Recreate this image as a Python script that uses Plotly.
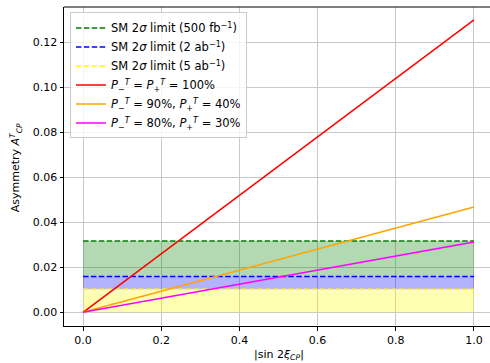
import plotly.graph_objects as go

# Data
x_vals = [0.0, 1.0]
asym_100 = [0.0, 0.13]       # P- = P+ = 100%
asym_90_40 = [0.0, 0.0468]   # P- = 90%, P+ = 40%
asym_80_30 = [0.0, 0.0312]   # P- = 80%, P+ = 30%
limit_500fb = 0.0317
limit_2ab = 0.0159
limit_5ab = 0.0102

x_ticks = [0.0, 0.2, 0.4, 0.6, 0.8, 1.0]
y_ticks = [0.00, 0.02, 0.04, 0.06, 0.08, 0.10, 0.12]

FONT = "DejaVu Sans"
fig = go.Figure()

def band(lo, hi, color):
    fig.add_trace(go.Scatter(
        x=[x_vals[0], x_vals[1], x_vals[1], x_vals[0], x_vals[0]],
        y=[lo, lo, hi, hi, lo], fill="toself", fillcolor=color,
        mode="none", showlegend=False, hoverinfo="skip"))

band(limit_2ab, limit_500fb, "rgba(0,128,0,0.3)")
band(limit_5ab, limit_2ab, "rgba(0,0,255,0.3)")
band(0.0, limit_5ab, "rgba(255,255,0,0.3)")

dash = "5.5px,2.4px"
fig.add_trace(go.Scatter(x=x_vals, y=[limit_500fb] * 2, mode="lines",
                         line=dict(color="green", width=1.5, dash=dash),
                         name="SM 2<i>σ</i> limit (500 fb<sup>−1</sup>)"))
fig.add_trace(go.Scatter(x=x_vals, y=[limit_2ab] * 2, mode="lines",
                         line=dict(color="blue", width=1.5, dash=dash),
                         name="SM 2<i>σ</i> limit (2 ab<sup>−1</sup>)"))
fig.add_trace(go.Scatter(x=x_vals, y=[limit_5ab] * 2, mode="lines",
                         line=dict(color="yellow", width=1.5, dash=dash),
                         name="SM 2<i>σ</i> limit (5 ab<sup>−1</sup>)"))
fig.add_trace(go.Scatter(x=x_vals, y=asym_100, mode="lines",
                         line=dict(color="red", width=1.5),
                         name="<i>P</i><sub>−</sub><sup><i>T</i></sup> = <i>P</i><sub>+</sub><sup><i>T</i></sup> = 100%"))
fig.add_trace(go.Scatter(x=x_vals, y=asym_90_40, mode="lines",
                         line=dict(color="orange", width=1.5),
                         name="<i>P</i><sub>−</sub><sup><i>T</i></sup> = 90%, <i>P</i><sub>+</sub><sup><i>T</i></sup> = 40%"))
fig.add_trace(go.Scatter(x=x_vals, y=asym_80_30, mode="lines",
                         line=dict(color="magenta", width=1.5),
                         name="<i>P</i><sub>−</sub><sup><i>T</i></sup> = 80%, <i>P</i><sub>+</sub><sup><i>T</i></sup> = 30%"))

fig.add_shape(type="line", xref="paper", yref="paper", x0=0, x1=1, y0=1, y1=1,
              line=dict(color="black", width=1))

fig.add_annotation(text="|sin 2<i>ξ</i><sub><i>CP</i></sub>|", xref="paper", yref="paper",
                   x=(279 - 64) / 426, y=(325.7 - 355) / 319, xanchor="center",
                   yanchor="middle", showarrow=False, font=dict(family=FONT, size=11))
fig.add_annotation(text="Asymmetry <i>A</i><sup><i>T</i></sup><sub><i>CP</i></sub>",
                   xref="paper", yref="paper", x=(16 - 64) / 426, y=(325.7 - 168) / 319,
                   xanchor="center", yanchor="middle", textangle=-90, showarrow=False,
                   font=dict(family=FONT, size=11))

fig.update_layout(
    width=490, height=363,
    margin=dict(l=64, r=0, t=7, b=37),
    plot_bgcolor="white", paper_bgcolor="white",
    font=dict(family=FONT, size=11, color="black"),
    legend=dict(x=0.014, y=0.983, xanchor="left", yanchor="top",
                bgcolor="rgba(255,255,255,0.8)", bordercolor="#cccccc",
                borderwidth=1, font=dict(family=FONT, size=11.5),
                tracegroupgap=0, itemwidth=30),
    xaxis=dict(range=[-0.0486, 1.041], tickvals=x_ticks,
               ticktext=[f"{v:.1f}" for v in x_ticks], automargin=False,
               showgrid=True, gridcolor="#c8c8c8", gridwidth=1,
               showline=True, linecolor="black", linewidth=1,
               ticks="outside", ticklen=3.5, tickcolor="black",
               zeroline=False, tickfont=dict(family=FONT, size=11)),
    yaxis=dict(range=[-0.0061, 0.1357], tickvals=y_ticks,
               ticktext=[f"{v:.2f}" for v in y_ticks], automargin=False,
               showgrid=True, gridcolor="#c8c8c8", gridwidth=1,
               showline=True, linecolor="black", linewidth=1,
               ticks="outside", ticklen=3.5, tickcolor="black",
               zeroline=False, tickfont=dict(family=FONT, size=11)),
)

fig.write_html("out.html", config={"displayModeBar": False},
               post_script="document.body.style.margin='0';document.body.style.overflow='hidden';")
